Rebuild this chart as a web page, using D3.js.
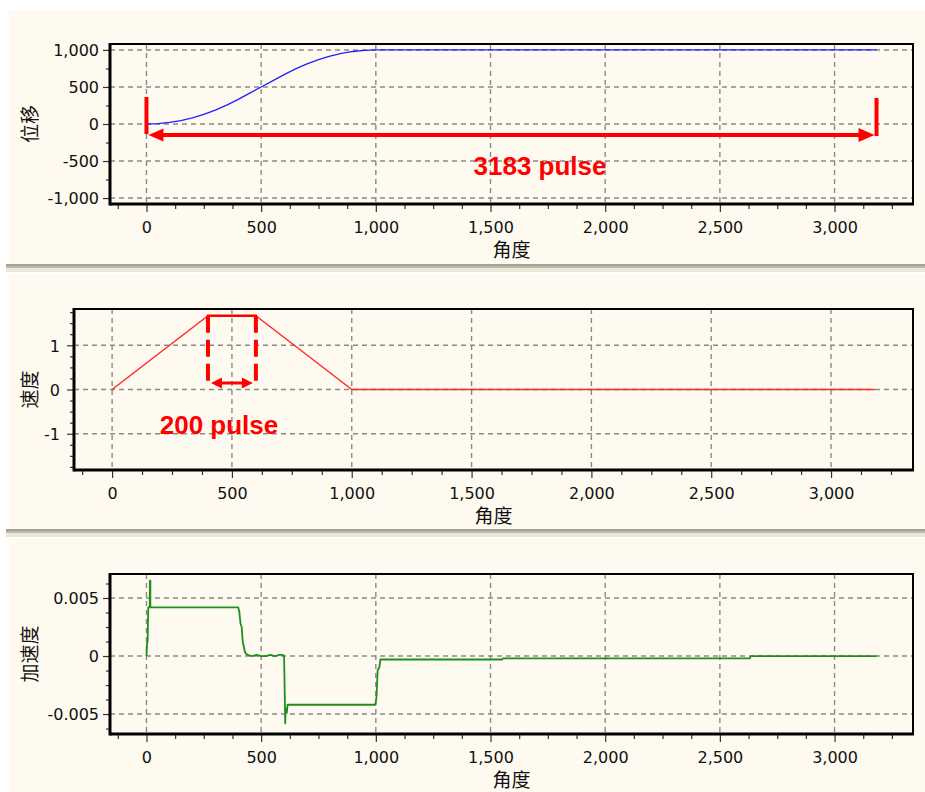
<!DOCTYPE html>
<html>
<head>
<meta charset="utf-8">
<script src="https://cdn.jsdelivr.net/npm/d3@7"></script>
<style>
  body { margin: 0; background: #ffffff; }
  svg { display: block; }
</style>
</head>
<body>
<svg id="chart" width="925" height="792"></svg>
<script>
// ---- shared angle axis (角度) ----
const angleTicks = [0, 500, 1000, 1500, 2000, 2500, 3000];
const angleTickLabels = ["0", "500", "1,000", "1,500", "2,000", "2,500", "3,000"];
const angleMinorTicks = [-125, 125, 250, 375, 625, 750, 875, 1125, 1250, 1375, 1625, 1750, 1875,
  2125, 2250, 2375, 2625, 2750, 2875, 3125, 3250];

// ---- displacement (位移) ----
const dispAngle = [0, 50, 100, 150, 200, 250, 300, 350, 400, 450, 500, 550, 600, 650, 700, 750, 800, 850, 900, 950, 1000, 3183];
const dispValue = [0, 5, 21, 47, 83, 130, 188, 255, 333, 417, 500, 583, 667, 745, 812, 870, 917, 953, 979, 995, 1000, 1000];
const dispTicks = [-1000, -500, 0, 500, 1000];
const dispTickLabels = ["-1,000", "-500", "0", "500", "1,000"];
const dispMinorTicks = [-750, -250, 250, 750];

// ---- velocity (速度) ----
const velAngle = [0, 400, 600, 1000, 3183];
const velValue = [0, 1.667, 1.667, 0, 0];
const velTicks = [-1, 0, 1];
const velTickLabels = ["-1", "0", "1"];
const velMinorTicks = [-1.75, -1.5, -1.25, -0.75, -0.5, -0.25, 0.25, 0.5, 0.75, 1.25, 1.5, 1.75];

// ---- acceleration (加速度) ----
const accAngle = [0, 3, 5, 8, 14, 15, 17, 17, 400, 405, 410, 415, 420, 430, 440, 460, 480, 500, 520, 540, 560, 580, 595,
  600, 605, 607, 612, 615, 998, 1003, 1008, 1015, 1020, 1550, 1555, 2630, 2635, 3183];
const accValue = [0, 0.0012, 0.0012, 0.0042, 0.0042, 0.0065, 0.0065, 0.0042, 0.0042, 0.0038, 0.0028, 0.0025, 0.0012,
  0.0003, 0.0001, 0, 0.0001, 0, 0, 0.0001, 0, 0.0001, 0.0001,
  0, -0.0058, -0.0045, -0.0049, -0.0042, -0.0042, -0.0035, -0.0012, -0.0010, -0.0003, -0.0003, -0.0002, -0.0002, 0, 0];
const accTicks = [-0.005, 0, 0.005];
const accTickLabels = ["-0.005", "0", "0.005"];
const accMinorTicks = [-0.00625, -0.00375, -0.0025, -0.00125, 0.00125, 0.0025, 0.00375, 0.00625];

// ---- annotations ----
const totalPulse = [0, 3183];
const totalPulseLabel = "3183 pulse";
const dwellPulse = [400, 600];
const dwellPulseLabel = "200 pulse";

const svg = d3.select("#chart");
const CREAM = "#fffaf0";
const TICK_FONT = "'DejaVu Sans', Verdana, sans-serif";
const CJK_FONT = "'Noto Sans CJK SC', 'Noto Sans CJK JP', sans-serif";
const angleDomain = [-159, 3342];

// panel backgrounds and separators
svg.append("rect").attr("width", 925).attr("height", 792).attr("fill", "#ffffff");
[[9, 10, 254], [9, 274, 255], [9, 539, 253]].forEach(([x, y, h]) => {
  svg.append("rect").attr("x", x).attr("y", y).attr("width", 925 - x).attr("height", h).attr("fill", CREAM);
});
[264, 529].forEach(y => {
  svg.append("rect").attr("x", 6).attr("y", y).attr("width", 919).attr("height", 2).attr("fill", "#a4a293");
  svg.append("rect").attr("x", 6).attr("y", y + 2).attr("width", 919).attr("height", 2).attr("fill", "#bcbaab");
  svg.append("rect").attr("x", 6).attr("y", y + 4).attr("width", 919).attr("height", 4).attr("fill", "#e9e7d8");
});

function drawPanel(cfg) {
  const x = d3.scaleLinear().domain(angleDomain).range([cfg.left, cfg.right]);
  const y = d3.scaleLinear().domain(cfg.yDomain).range([cfg.bottom, cfg.top]);
  const g = svg.append("g");

  // dashed grid
  const grid = g.append("g").attr("stroke", "#8a8a8a").attr("stroke-width", 1.4)
    .attr("stroke-dasharray", "5,4").attr("fill", "none");
  grid.selectAll(".vg").data(angleTicks).join("line")
    .attr("x1", d => x(d)).attr("x2", d => x(d)).attr("y1", cfg.top).attr("y2", cfg.bottom);
  grid.selectAll(".hg").data(cfg.yTicks).join("line")
    .attr("x1", cfg.left).attr("x2", cfg.right).attr("y1", d => y(d)).attr("y2", d => y(d));

  // x axis: major + minor ticks
  const xAxis = g.append("g").attr("transform", `translate(0,${cfg.bottom})`)
    .call(d3.axisBottom(x).tickValues(angleTicks).tickSize(8).tickSizeOuter(0)
      .tickFormat((d, i) => angleTickLabels[i]));
  g.append("g").attr("transform", `translate(0,${cfg.bottom})`)
    .call(d3.axisBottom(x).tickValues(angleMinorTicks).tickSize(5).tickSizeOuter(0).tickFormat(""))
    .call(a => a.select(".domain").remove());
  xAxis.select(".domain").remove();
  xAxis.selectAll("text").attr("y", 29).attr("dy", 0)
    .attr("font-family", TICK_FONT).attr("font-size", 16).attr("fill", "#111");

  // y axis: major + minor ticks
  const yAxis = g.append("g").attr("transform", `translate(${cfg.left},0)`)
    .call(d3.axisLeft(y).tickValues(cfg.yTicks).tickSize(7).tickSizeOuter(0)
      .tickFormat((d, i) => cfg.yTickLabels[i]));
  g.append("g").attr("transform", `translate(${cfg.left},0)`)
    .call(d3.axisLeft(y).tickValues(cfg.yMinor).tickSize(4).tickSizeOuter(0).tickFormat(""))
    .call(a => a.select(".domain").remove());
  yAxis.select(".domain").remove();
  yAxis.selectAll("text").attr("x", -cfg.labelGap).attr("dy", "0.36em")
    .attr("font-family", TICK_FONT).attr("font-size", 16).attr("fill", "#111");
  g.selectAll(".tick line").attr("stroke", "#333").attr("stroke-width", 1.2);

  // data line
  const pts = cfg.xs.map((d, i) => [d, cfg.ys[i]]);
  g.append("path").datum(pts)
    .attr("fill", "none").attr("stroke", cfg.color).attr("stroke-width", cfg.width)
    .attr("stroke-linejoin", "round")
    .attr("d", d3.line().x(d => x(d[0])).y(d => y(d[1])));

  // frame: heavier left and bottom edges
  g.append("rect").attr("x", cfg.left).attr("y", cfg.top)
    .attr("width", cfg.right - cfg.left).attr("height", cfg.bottom - cfg.top)
    .attr("fill", "none").attr("stroke", "#000").attr("stroke-width", 2);
  g.append("line").attr("x1", cfg.left).attr("x2", cfg.left).attr("y1", cfg.top - 1).attr("y2", cfg.bottom + 1.5)
    .attr("stroke", "#000").attr("stroke-width", 3);
  g.append("line").attr("x1", cfg.left).attr("x2", cfg.right + 1).attr("y1", cfg.bottom).attr("y2", cfg.bottom)
    .attr("stroke", "#000").attr("stroke-width", 3);

  // axis titles
  g.append("text").attr("x", (cfg.left + cfg.right) / 2).attr("y", cfg.bottom + 53)
    .attr("text-anchor", "middle").attr("font-family", CJK_FONT).attr("font-size", 19)
    .attr("fill", "#111").text("角度");
  g.append("text")
    .attr("transform", `translate(28,${(cfg.top + cfg.bottom) / 2}) rotate(-90)`)
    .attr("text-anchor", "middle").attr("dominant-baseline", "central")
    .attr("font-family", CJK_FONT).attr("font-size", 19).attr("fill", "#111").text(cfg.title);

  return { x, y };
}

const p1 = drawPanel({
  left: 110, right: 913, top: 44, bottom: 204, yDomain: [-1080, 1080],
  yTicks: dispTicks, yTickLabels: dispTickLabels, yMinor: dispMinorTicks, labelGap: 11,
  xs: dispAngle, ys: dispValue, color: "#1f1fff", width: 1.3, title: "位移"
});
const p2 = drawPanel({
  left: 74, right: 913, top: 309, bottom: 470, yDomain: [-1.82, 1.82],
  yTicks: velTicks, yTickLabels: velTickLabels, yMinor: velMinorTicks, labelGap: 14,
  xs: velAngle, ys: velValue, color: "#ff2a2a", width: 1.5, title: "速度"
});
const p3 = drawPanel({
  left: 110, right: 913, top: 574, bottom: 734, yDomain: [-0.00672, 0.00707],
  yTicks: accTicks, yTickLabels: accTickLabels, yMinor: accMinorTicks, labelGap: 11,
  xs: accAngle, ys: accValue, color: "#1e8f1e", width: 1.8, title: "加速度"
});

// ---- red annotations ----
const RED = "#ff0000";
const ann = svg.append("g");

// total travel: end markers and a double-headed arrow
{
  const xa = p1.x(totalPulse[0]), xb = p1.x(totalPulse[1]);
  const ay = 135;
  ann.append("line").attr("x1", xa).attr("x2", xa).attr("y1", 97).attr("y2", 134)
    .attr("stroke", RED).attr("stroke-width", 4);
  ann.append("line").attr("x1", xb).attr("x2", xb).attr("y1", 98).attr("y2", 136)
    .attr("stroke", RED).attr("stroke-width", 4);
  ann.append("line").attr("x1", xa + 12).attr("x2", xb - 14).attr("y1", ay).attr("y2", ay)
    .attr("stroke", RED).attr("stroke-width", 4);
  ann.append("path").attr("fill", RED)
    .attr("d", `M${xa + 2},${ay} L${xa + 17},${ay - 6.5} L${xa + 17},${ay + 6.5} Z`);
  ann.append("path").attr("fill", RED)
    .attr("d", `M${xb - 2},${ay} L${xb - 18},${ay - 7} L${xb - 18},${ay + 7} Z`);
  ann.append("text").attr("x", 540).attr("y", 175).attr("text-anchor", "middle")
    .attr("font-family", "'Liberation Sans', Arial, sans-serif").attr("font-weight", "bold")
    .attr("font-size", 26).attr("fill", RED).text(totalPulseLabel);
}

// constant-velocity stretch: dashed bounds, top bar and arrow
{
  const xa = p2.x(dwellPulse[0]), xb = p2.x(dwellPulse[1]);
  const topY = p2.y(velValue[1]);
  ann.append("line").attr("x1", xa - 1).attr("x2", xb + 1).attr("y1", topY).attr("y2", topY)
    .attr("stroke", RED).attr("stroke-width", 2.5);
  [xa, xb].forEach(xx => {
    ann.append("line").attr("x1", xx).attr("x2", xx).attr("y1", topY).attr("y2", 387)
      .attr("stroke", RED).attr("stroke-width", 4).attr("stroke-dasharray", "17,7");
  });
  const ay = 383;
  ann.append("line").attr("x1", xa + 10).attr("x2", xb - 10).attr("y1", ay).attr("y2", ay)
    .attr("stroke", RED).attr("stroke-width", 3);
  ann.append("path").attr("fill", RED)
    .attr("d", `M${xa + 3},${ay} L${xa + 14},${ay - 5.5} L${xa + 14},${ay + 5.5} Z`);
  ann.append("path").attr("fill", RED)
    .attr("d", `M${xb - 3},${ay} L${xb - 14},${ay - 5.5} L${xb - 14},${ay + 5.5} Z`);
  ann.append("text").attr("x", 219).attr("y", 434).attr("text-anchor", "middle")
    .attr("font-family", "'Liberation Sans', Arial, sans-serif").attr("font-weight", "bold")
    .attr("font-size", 26).attr("fill", RED).text(dwellPulseLabel);
}
</script>
</body>
</html>
